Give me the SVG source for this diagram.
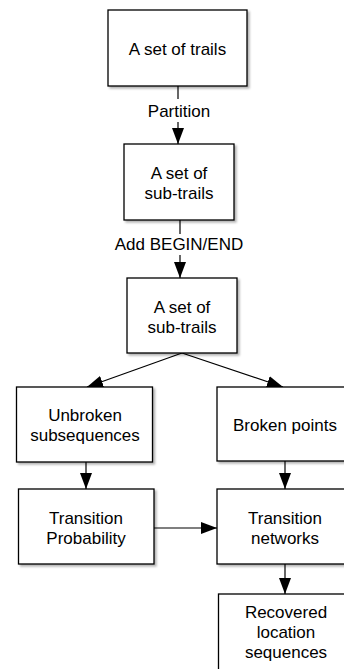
<svg xmlns="http://www.w3.org/2000/svg" width="344" height="669" viewBox="0 0 344 669">
<style>
.box{fill:#fff;stroke:#000;stroke-width:1.3;filter:url(#sh)}
.t{font-family:"Liberation Sans",Arial,Helvetica,sans-serif;font-size:17px;fill:#000;text-anchor:middle}
.c{fill:none;stroke:#000;stroke-width:1.2}
</style>
<defs>
<filter id="sh" x="-10%" y="-10%" width="130%" height="130%">
<feDropShadow dx="2" dy="2" stdDeviation="1.2" flood-color="#000" flood-opacity="0.3"/>
</filter>
<marker id="ah" viewBox="0 0 16 12" refX="16" refY="6" markerUnits="userSpaceOnUse" markerWidth="16" markerHeight="12" orient="auto">
<path d="M0,0 L16,6 L0,12 z" fill="#000"/>
</marker>
</defs>
<rect width="344" height="669" fill="#fff"/>
<g id="connectors">
<path class="c" d="M178,86 V99"/>
<path class="c" d="M178,122 V144" marker-end="url(#ah)"/>
<text class="t" x="179" y="117">Partition</text>
<path class="c" d="M180,220 V234"/>
<path class="c" d="M180,255 V278" marker-end="url(#ah)"/>
<text class="t" x="179" y="250">Add BEGIN/END</text>
<path class="c" d="M182,353 L87,387" marker-end="url(#ah)"/>
<path class="c" d="M182,353 L283,387" marker-end="url(#ah)"/>
<path class="c" d="M86,462 V489" marker-end="url(#ah)"/>
<path class="c" d="M285,461 V489" marker-end="url(#ah)"/>
<path class="c" d="M154,528 H217" marker-end="url(#ah)"/>
<path class="c" d="M285,564 V594" marker-end="url(#ah)"/>
</g>
<g id="trails">
<rect class="box" x="108" y="10" width="139" height="76"/>
<text class="t" x="177.5" y="55">A set of trails</text>
</g>
<g id="subtrails1">
<rect class="box" x="124" y="144" width="110" height="76"/>
<text class="t" x="179" y="179">A set of</text>
<text class="t" x="179" y="199">sub-trails</text>
</g>
<g id="subtrails2">
<rect class="box" x="127" y="278" width="110" height="75"/>
<text class="t" x="182" y="313">A set of</text>
<text class="t" x="182" y="333">sub-trails</text>
</g>
<g id="unbroken">
<rect class="box" x="16.5" y="387" width="136" height="75"/>
<text class="t" x="85" y="421">Unbroken</text>
<text class="t" x="85" y="441">subsequences</text>
</g>
<g id="broken">
<rect class="box" x="217" y="387" width="136" height="74"/>
<text class="t" x="285" y="431">Broken points</text>
</g>
<g id="probability">
<rect class="box" x="18.5" y="489" width="135.5" height="75"/>
<text class="t" x="86" y="524">Transition</text>
<text class="t" x="86" y="544">Probability</text>
</g>
<g id="networks">
<rect class="box" x="217" y="489" width="136" height="75"/>
<text class="t" x="285" y="524">Transition</text>
<text class="t" x="285" y="544">networks</text>
</g>
<g id="recovered">
<rect class="box" x="218.5" y="594" width="136" height="95"/>
<text class="t" x="286" y="618">Recovered</text>
<text class="t" x="286" y="638">location</text>
<text class="t" x="286" y="658">sequences</text>
</g>
</svg>
